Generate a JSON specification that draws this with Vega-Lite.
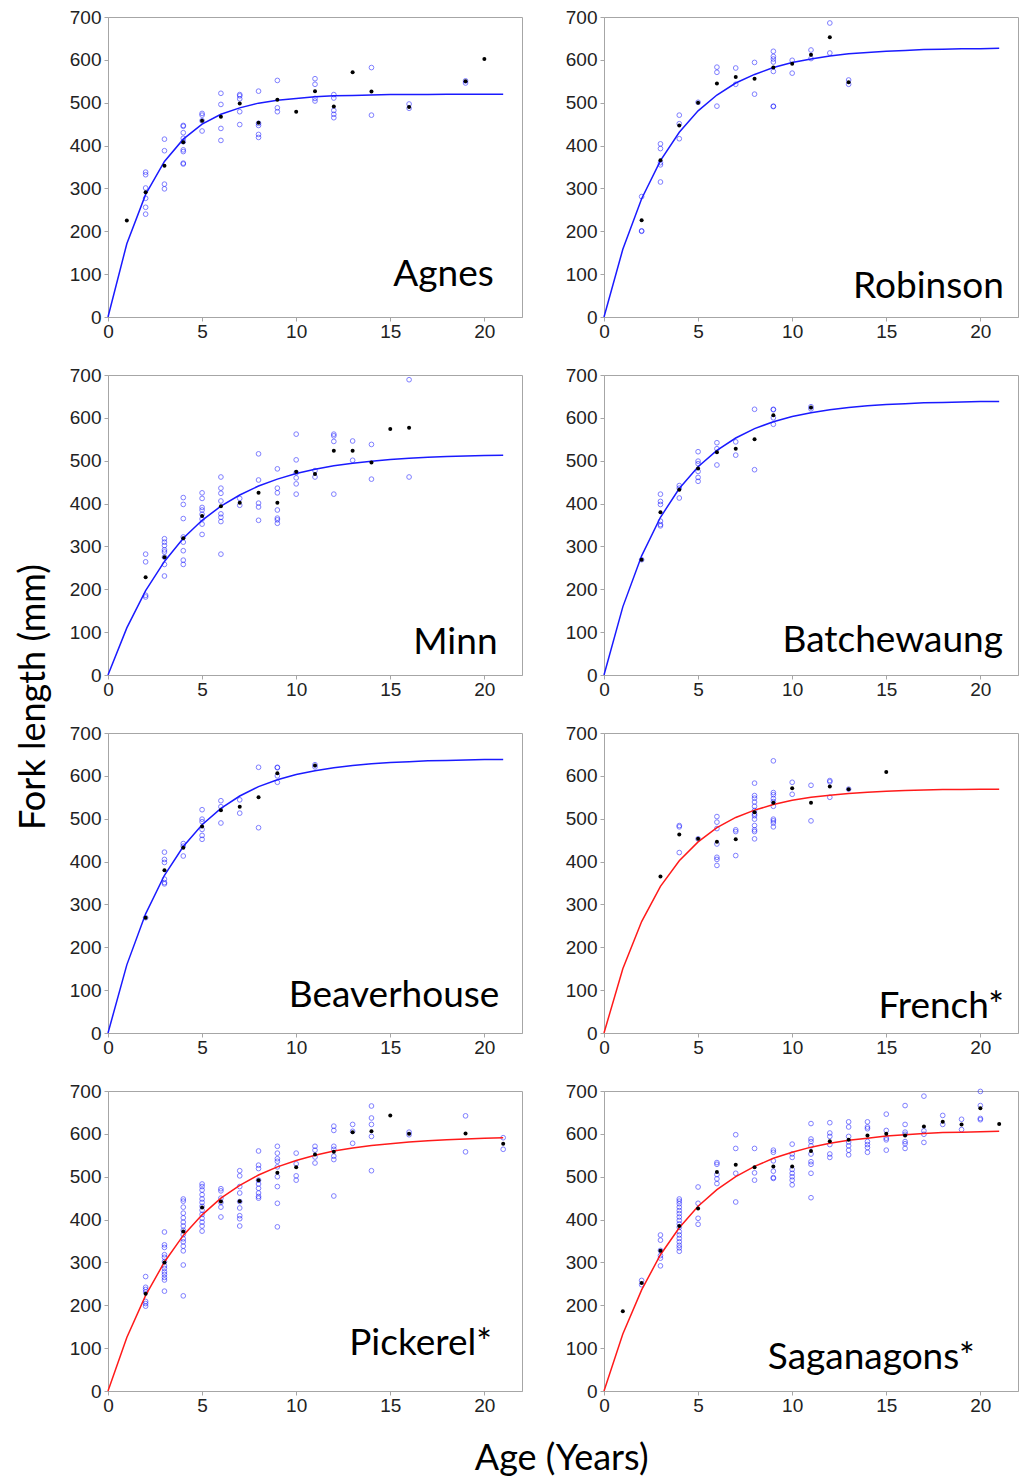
{
"$schema":"https://vega.github.io/schema/vega-lite/v6.json",
"padding":{"left":15,"top":7,"right":0,"bottom":2},
"datasets":{
"obs":[
{"lake":"Agnes","age":2,"length":338},{"lake":"Agnes","age":2,"length":332},{"lake":"Agnes","age":2,"length":301},{"lake":"Agnes","age":2,"length":277},{"lake":"Agnes","age":2,"length":256},{"lake":"Agnes","age":2,"length":240},
{"lake":"Agnes","age":3,"length":415},{"lake":"Agnes","age":3,"length":388},{"lake":"Agnes","age":3,"length":310},{"lake":"Agnes","age":3,"length":299},
{"lake":"Agnes","age":4,"length":447},{"lake":"Agnes","age":4,"length":445},{"lake":"Agnes","age":4,"length":430},{"lake":"Agnes","age":4,"length":417},{"lake":"Agnes","age":4,"length":409},{"lake":"Agnes","age":4,"length":390},{"lake":"Agnes","age":4,"length":386},{"lake":"Agnes","age":4,"length":359},{"lake":"Agnes","age":4,"length":357},
{"lake":"Agnes","age":5,"length":475},{"lake":"Agnes","age":5,"length":471},{"lake":"Agnes","age":5,"length":458},{"lake":"Agnes","age":5,"length":434},
{"lake":"Agnes","age":6,"length":522},{"lake":"Agnes","age":6,"length":496},{"lake":"Agnes","age":6,"length":440},{"lake":"Agnes","age":6,"length":412},
{"lake":"Agnes","age":7,"length":519},{"lake":"Agnes","age":7,"length":516},{"lake":"Agnes","age":7,"length":509},{"lake":"Agnes","age":7,"length":479},{"lake":"Agnes","age":7,"length":449},
{"lake":"Agnes","age":8,"length":527},{"lake":"Agnes","age":8,"length":452},{"lake":"Agnes","age":8,"length":447},{"lake":"Agnes","age":8,"length":426},{"lake":"Agnes","age":8,"length":419},
{"lake":"Agnes","age":9,"length":552},{"lake":"Agnes","age":9,"length":488},{"lake":"Agnes","age":9,"length":479},
{"lake":"Agnes","age":11,"length":556},{"lake":"Agnes","age":11,"length":543},{"lake":"Agnes","age":11,"length":510},{"lake":"Agnes","age":11,"length":504},
{"lake":"Agnes","age":12,"length":519},{"lake":"Agnes","age":12,"length":511},{"lake":"Agnes","age":12,"length":482},{"lake":"Agnes","age":12,"length":473},{"lake":"Agnes","age":12,"length":465},
{"lake":"Agnes","age":14,"length":582},{"lake":"Agnes","age":14,"length":471},
{"lake":"Agnes","age":16,"length":497},{"lake":"Agnes","age":16,"length":487},
{"lake":"Agnes","age":19,"length":551},{"lake":"Agnes","age":19,"length":546},

{"lake":"Robinson","age":2,"length":281},{"lake":"Robinson","age":2,"length":200},{"lake":"Robinson","age":2,"length":201},
{"lake":"Robinson","age":3,"length":404},{"lake":"Robinson","age":3,"length":393},{"lake":"Robinson","age":3,"length":360},{"lake":"Robinson","age":3,"length":355},{"lake":"Robinson","age":3,"length":315},
{"lake":"Robinson","age":4,"length":471},{"lake":"Robinson","age":4,"length":451},{"lake":"Robinson","age":4,"length":416},
{"lake":"Robinson","age":5,"length":501},
{"lake":"Robinson","age":6,"length":583},{"lake":"Robinson","age":6,"length":571},{"lake":"Robinson","age":6,"length":492},
{"lake":"Robinson","age":7,"length":581},{"lake":"Robinson","age":7,"length":543},
{"lake":"Robinson","age":8,"length":594},{"lake":"Robinson","age":8,"length":520},
{"lake":"Robinson","age":9,"length":620},{"lake":"Robinson","age":9,"length":608},{"lake":"Robinson","age":9,"length":602},{"lake":"Robinson","age":9,"length":595},{"lake":"Robinson","age":9,"length":573},{"lake":"Robinson","age":9,"length":491},{"lake":"Robinson","age":9,"length":492},
{"lake":"Robinson","age":10,"length":599},{"lake":"Robinson","age":10,"length":569},
{"lake":"Robinson","age":11,"length":623},{"lake":"Robinson","age":11,"length":603},
{"lake":"Robinson","age":12,"length":686},{"lake":"Robinson","age":12,"length":616},
{"lake":"Robinson","age":13,"length":553},{"lake":"Robinson","age":13,"length":543},

{"lake":"Minn","age":2,"length":282},{"lake":"Minn","age":2,"length":264},{"lake":"Minn","age":2,"length":186},{"lake":"Minn","age":2,"length":182},
{"lake":"Minn","age":3,"length":318},{"lake":"Minn","age":3,"length":310},{"lake":"Minn","age":3,"length":302},{"lake":"Minn","age":3,"length":292},{"lake":"Minn","age":3,"length":287},{"lake":"Minn","age":3,"length":275},{"lake":"Minn","age":3,"length":258},{"lake":"Minn","age":3,"length":231},
{"lake":"Minn","age":4,"length":414},{"lake":"Minn","age":4,"length":398},{"lake":"Minn","age":4,"length":365},{"lake":"Minn","age":4,"length":322},{"lake":"Minn","age":4,"length":310},{"lake":"Minn","age":4,"length":290},{"lake":"Minn","age":4,"length":268},{"lake":"Minn","age":4,"length":258},
{"lake":"Minn","age":5,"length":425},{"lake":"Minn","age":5,"length":412},{"lake":"Minn","age":5,"length":391},{"lake":"Minn","age":5,"length":385},{"lake":"Minn","age":5,"length":375},{"lake":"Minn","age":5,"length":364},{"lake":"Minn","age":5,"length":352},{"lake":"Minn","age":5,"length":328},
{"lake":"Minn","age":6,"length":462},{"lake":"Minn","age":6,"length":436},{"lake":"Minn","age":6,"length":424},{"lake":"Minn","age":6,"length":406},{"lake":"Minn","age":6,"length":376},{"lake":"Minn","age":6,"length":368},{"lake":"Minn","age":6,"length":358},{"lake":"Minn","age":6,"length":282},
{"lake":"Minn","age":7,"length":412},{"lake":"Minn","age":7,"length":396},
{"lake":"Minn","age":8,"length":516},{"lake":"Minn","age":8,"length":455},{"lake":"Minn","age":8,"length":401},{"lake":"Minn","age":8,"length":392},{"lake":"Minn","age":8,"length":361},
{"lake":"Minn","age":9,"length":481},{"lake":"Minn","age":9,"length":436},{"lake":"Minn","age":9,"length":425},{"lake":"Minn","age":9,"length":385},{"lake":"Minn","age":9,"length":366},{"lake":"Minn","age":9,"length":362},{"lake":"Minn","age":9,"length":354},
{"lake":"Minn","age":10,"length":562},{"lake":"Minn","age":10,"length":502},{"lake":"Minn","age":10,"length":472},{"lake":"Minn","age":10,"length":460},{"lake":"Minn","age":10,"length":446},{"lake":"Minn","age":10,"length":422},
{"lake":"Minn","age":11,"length":462},{"lake":"Minn","age":11,"length":477},
{"lake":"Minn","age":12,"length":562},{"lake":"Minn","age":12,"length":558},{"lake":"Minn","age":12,"length":545},{"lake":"Minn","age":12,"length":422},
{"lake":"Minn","age":13,"length":546},{"lake":"Minn","age":13,"length":501},
{"lake":"Minn","age":14,"length":538},{"lake":"Minn","age":14,"length":457},
{"lake":"Minn","age":16,"length":689},{"lake":"Minn","age":16,"length":462},

{"lake":"Batchewaung","age":2,"length":269},
{"lake":"Batchewaung","age":3,"length":422},{"lake":"Batchewaung","age":3,"length":405},{"lake":"Batchewaung","age":3,"length":398},{"lake":"Batchewaung","age":3,"length":359},{"lake":"Batchewaung","age":3,"length":351},{"lake":"Batchewaung","age":3,"length":348},
{"lake":"Batchewaung","age":4,"length":442},{"lake":"Batchewaung","age":4,"length":436},{"lake":"Batchewaung","age":4,"length":413},
{"lake":"Batchewaung","age":5,"length":521},{"lake":"Batchewaung","age":5,"length":499},{"lake":"Batchewaung","age":5,"length":493},{"lake":"Batchewaung","age":5,"length":475},{"lake":"Batchewaung","age":5,"length":461},{"lake":"Batchewaung","age":5,"length":452},
{"lake":"Batchewaung","age":6,"length":542},{"lake":"Batchewaung","age":6,"length":528},{"lake":"Batchewaung","age":6,"length":490},
{"lake":"Batchewaung","age":7,"length":544},{"lake":"Batchewaung","age":7,"length":513},
{"lake":"Batchewaung","age":8,"length":620},{"lake":"Batchewaung","age":8,"length":479},
{"lake":"Batchewaung","age":9,"length":620},{"lake":"Batchewaung","age":9,"length":619},{"lake":"Batchewaung","age":9,"length":600},{"lake":"Batchewaung","age":9,"length":585},
{"lake":"Batchewaung","age":11,"length":626},{"lake":"Batchewaung","age":11,"length":621},

{"lake":"Beaverhouse","age":2,"length":269},
{"lake":"Beaverhouse","age":3,"length":422},{"lake":"Beaverhouse","age":3,"length":405},{"lake":"Beaverhouse","age":3,"length":398},{"lake":"Beaverhouse","age":3,"length":359},{"lake":"Beaverhouse","age":3,"length":351},{"lake":"Beaverhouse","age":3,"length":348},
{"lake":"Beaverhouse","age":4,"length":442},{"lake":"Beaverhouse","age":4,"length":436},{"lake":"Beaverhouse","age":4,"length":413},
{"lake":"Beaverhouse","age":5,"length":521},{"lake":"Beaverhouse","age":5,"length":499},{"lake":"Beaverhouse","age":5,"length":493},{"lake":"Beaverhouse","age":5,"length":475},{"lake":"Beaverhouse","age":5,"length":461},{"lake":"Beaverhouse","age":5,"length":452},
{"lake":"Beaverhouse","age":6,"length":542},{"lake":"Beaverhouse","age":6,"length":528},{"lake":"Beaverhouse","age":6,"length":490},
{"lake":"Beaverhouse","age":7,"length":544},{"lake":"Beaverhouse","age":7,"length":513},
{"lake":"Beaverhouse","age":8,"length":620},{"lake":"Beaverhouse","age":8,"length":479},
{"lake":"Beaverhouse","age":9,"length":620},{"lake":"Beaverhouse","age":9,"length":619},{"lake":"Beaverhouse","age":9,"length":600},{"lake":"Beaverhouse","age":9,"length":585},
{"lake":"Beaverhouse","age":11,"length":626},{"lake":"Beaverhouse","age":11,"length":621},

{"lake":"French*","age":4,"length":484},{"lake":"French*","age":4,"length":481},{"lake":"French*","age":4,"length":421},
{"lake":"French*","age":5,"length":453},
{"lake":"French*","age":6,"length":505},{"lake":"French*","age":6,"length":492},{"lake":"French*","age":6,"length":477},{"lake":"French*","age":6,"length":441},{"lake":"French*","age":6,"length":410},{"lake":"French*","age":6,"length":405},{"lake":"French*","age":6,"length":391},
{"lake":"French*","age":7,"length":474},{"lake":"French*","age":7,"length":470},{"lake":"French*","age":7,"length":414},
{"lake":"French*","age":8,"length":583},{"lake":"French*","age":8,"length":554},{"lake":"French*","age":8,"length":548},{"lake":"French*","age":8,"length":539},{"lake":"French*","age":8,"length":529},{"lake":"French*","age":8,"length":519},{"lake":"French*","age":8,"length":511},{"lake":"French*","age":8,"length":507},{"lake":"French*","age":8,"length":499},{"lake":"French*","age":8,"length":484},{"lake":"French*","age":8,"length":474},{"lake":"French*","age":8,"length":470},{"lake":"French*","age":8,"length":453},
{"lake":"French*","age":9,"length":635},{"lake":"French*","age":9,"length":561},{"lake":"French*","age":9,"length":556},{"lake":"French*","age":9,"length":547},{"lake":"French*","age":9,"length":540},{"lake":"French*","age":9,"length":529},{"lake":"French*","age":9,"length":499},{"lake":"French*","age":9,"length":495},{"lake":"French*","age":9,"length":490},{"lake":"French*","age":9,"length":481},
{"lake":"French*","age":10,"length":585},{"lake":"French*","age":10,"length":557},
{"lake":"French*","age":11,"length":578},{"lake":"French*","age":11,"length":495},
{"lake":"French*","age":12,"length":589},{"lake":"French*","age":12,"length":586},{"lake":"French*","age":12,"length":550},
{"lake":"French*","age":13,"length":569},

{"lake":"Pickerel*","age":2,"length":267},{"lake":"Pickerel*","age":2,"length":242},{"lake":"Pickerel*","age":2,"length":237},{"lake":"Pickerel*","age":2,"length":231},{"lake":"Pickerel*","age":2,"length":209},{"lake":"Pickerel*","age":2,"length":204},{"lake":"Pickerel*","age":2,"length":198},
{"lake":"Pickerel*","age":3,"length":371},{"lake":"Pickerel*","age":3,"length":341},{"lake":"Pickerel*","age":3,"length":335},{"lake":"Pickerel*","age":3,"length":318},{"lake":"Pickerel*","age":3,"length":312},{"lake":"Pickerel*","age":3,"length":302},{"lake":"Pickerel*","age":3,"length":292},{"lake":"Pickerel*","age":3,"length":286},{"lake":"Pickerel*","age":3,"length":278},{"lake":"Pickerel*","age":3,"length":272},{"lake":"Pickerel*","age":3,"length":265},{"lake":"Pickerel*","age":3,"length":259},{"lake":"Pickerel*","age":3,"length":233},
{"lake":"Pickerel*","age":4,"length":448},{"lake":"Pickerel*","age":4,"length":443},{"lake":"Pickerel*","age":4,"length":429},{"lake":"Pickerel*","age":4,"length":415},{"lake":"Pickerel*","age":4,"length":404},{"lake":"Pickerel*","age":4,"length":394},{"lake":"Pickerel*","age":4,"length":385},{"lake":"Pickerel*","age":4,"length":375},{"lake":"Pickerel*","age":4,"length":365},{"lake":"Pickerel*","age":4,"length":355},{"lake":"Pickerel*","age":4,"length":348},{"lake":"Pickerel*","age":4,"length":338},{"lake":"Pickerel*","age":4,"length":327},{"lake":"Pickerel*","age":4,"length":294},{"lake":"Pickerel*","age":4,"length":222},
{"lake":"Pickerel*","age":5,"length":483},{"lake":"Pickerel*","age":5,"length":477},{"lake":"Pickerel*","age":5,"length":469},{"lake":"Pickerel*","age":5,"length":458},{"lake":"Pickerel*","age":5,"length":448},{"lake":"Pickerel*","age":5,"length":440},{"lake":"Pickerel*","age":5,"length":431},{"lake":"Pickerel*","age":5,"length":422},{"lake":"Pickerel*","age":5,"length":412},{"lake":"Pickerel*","age":5,"length":403},{"lake":"Pickerel*","age":5,"length":394},{"lake":"Pickerel*","age":5,"length":385},{"lake":"Pickerel*","age":5,"length":373},
{"lake":"Pickerel*","age":6,"length":472},{"lake":"Pickerel*","age":6,"length":467},{"lake":"Pickerel*","age":6,"length":450},{"lake":"Pickerel*","age":6,"length":440},{"lake":"Pickerel*","age":6,"length":429},{"lake":"Pickerel*","age":6,"length":406},
{"lake":"Pickerel*","age":7,"length":514},{"lake":"Pickerel*","age":7,"length":502},{"lake":"Pickerel*","age":7,"length":477},{"lake":"Pickerel*","age":7,"length":462},{"lake":"Pickerel*","age":7,"length":442},{"lake":"Pickerel*","age":7,"length":427},{"lake":"Pickerel*","age":7,"length":409},{"lake":"Pickerel*","age":7,"length":402},{"lake":"Pickerel*","age":7,"length":385},
{"lake":"Pickerel*","age":8,"length":560},{"lake":"Pickerel*","age":8,"length":527},{"lake":"Pickerel*","age":8,"length":519},{"lake":"Pickerel*","age":8,"length":492},{"lake":"Pickerel*","age":8,"length":483},{"lake":"Pickerel*","age":8,"length":473},{"lake":"Pickerel*","age":8,"length":462},{"lake":"Pickerel*","age":8,"length":454},{"lake":"Pickerel*","age":8,"length":450},
{"lake":"Pickerel*","age":9,"length":571},{"lake":"Pickerel*","age":9,"length":555},{"lake":"Pickerel*","age":9,"length":542},{"lake":"Pickerel*","age":9,"length":536},{"lake":"Pickerel*","age":9,"length":523},{"lake":"Pickerel*","age":9,"length":500},{"lake":"Pickerel*","age":9,"length":477},{"lake":"Pickerel*","age":9,"length":438},{"lake":"Pickerel*","age":9,"length":383},
{"lake":"Pickerel*","age":10,"length":555},{"lake":"Pickerel*","age":10,"length":530},{"lake":"Pickerel*","age":10,"length":502},{"lake":"Pickerel*","age":10,"length":492},
{"lake":"Pickerel*","age":11,"length":571},{"lake":"Pickerel*","age":11,"length":562},{"lake":"Pickerel*","age":11,"length":546},{"lake":"Pickerel*","age":11,"length":532},
{"lake":"Pickerel*","age":12,"length":618},{"lake":"Pickerel*","age":12,"length":608},{"lake":"Pickerel*","age":12,"length":571},{"lake":"Pickerel*","age":12,"length":564},{"lake":"Pickerel*","age":12,"length":548},{"lake":"Pickerel*","age":12,"length":540},{"lake":"Pickerel*","age":12,"length":455},
{"lake":"Pickerel*","age":13,"length":622},{"lake":"Pickerel*","age":13,"length":606},{"lake":"Pickerel*","age":13,"length":578},
{"lake":"Pickerel*","age":14,"length":665},{"lake":"Pickerel*","age":14,"length":637},{"lake":"Pickerel*","age":14,"length":622},{"lake":"Pickerel*","age":14,"length":594},{"lake":"Pickerel*","age":14,"length":514},
{"lake":"Pickerel*","age":16,"length":604},{"lake":"Pickerel*","age":16,"length":598},
{"lake":"Pickerel*","age":19,"length":642},{"lake":"Pickerel*","age":19,"length":558},
{"lake":"Pickerel*","age":21,"length":591},{"lake":"Pickerel*","age":21,"length":564},

{"lake":"Saganagons*","age":2,"length":258},{"lake":"Saganagons*","age":2,"length":248},
{"lake":"Saganagons*","age":3,"length":364},{"lake":"Saganagons*","age":3,"length":352},{"lake":"Saganagons*","age":3,"length":328},{"lake":"Saganagons*","age":3,"length":316},{"lake":"Saganagons*","age":3,"length":310},{"lake":"Saganagons*","age":3,"length":292},
{"lake":"Saganagons*","age":4,"length":448},{"lake":"Saganagons*","age":4,"length":443},{"lake":"Saganagons*","age":4,"length":437},{"lake":"Saganagons*","age":4,"length":429},{"lake":"Saganagons*","age":4,"length":421},{"lake":"Saganagons*","age":4,"length":414},{"lake":"Saganagons*","age":4,"length":406},{"lake":"Saganagons*","age":4,"length":398},{"lake":"Saganagons*","age":4,"length":390},{"lake":"Saganagons*","age":4,"length":382},{"lake":"Saganagons*","age":4,"length":372},{"lake":"Saganagons*","age":4,"length":364},{"lake":"Saganagons*","age":4,"length":356},{"lake":"Saganagons*","age":4,"length":348},{"lake":"Saganagons*","age":4,"length":340},{"lake":"Saganagons*","age":4,"length":334},{"lake":"Saganagons*","age":4,"length":326},
{"lake":"Saganagons*","age":5,"length":476},{"lake":"Saganagons*","age":5,"length":438},{"lake":"Saganagons*","age":5,"length":403},{"lake":"Saganagons*","age":5,"length":389},
{"lake":"Saganagons*","age":6,"length":533},{"lake":"Saganagons*","age":6,"length":529},{"lake":"Saganagons*","age":6,"length":505},{"lake":"Saganagons*","age":6,"length":495},{"lake":"Saganagons*","age":6,"length":484},
{"lake":"Saganagons*","age":7,"length":598},{"lake":"Saganagons*","age":7,"length":566},{"lake":"Saganagons*","age":7,"length":508},{"lake":"Saganagons*","age":7,"length":441},
{"lake":"Saganagons*","age":8,"length":566},{"lake":"Saganagons*","age":8,"length":509},{"lake":"Saganagons*","age":8,"length":492},
{"lake":"Saganagons*","age":9,"length":562},{"lake":"Saganagons*","age":9,"length":557},{"lake":"Saganagons*","age":9,"length":537},{"lake":"Saganagons*","age":9,"length":513},{"lake":"Saganagons*","age":9,"length":498},{"lake":"Saganagons*","age":9,"length":496},
{"lake":"Saganagons*","age":10,"length":576},{"lake":"Saganagons*","age":10,"length":553},{"lake":"Saganagons*","age":10,"length":545},{"lake":"Saganagons*","age":10,"length":517},{"lake":"Saganagons*","age":10,"length":508},{"lake":"Saganagons*","age":10,"length":500},{"lake":"Saganagons*","age":10,"length":492},{"lake":"Saganagons*","age":10,"length":481},
{"lake":"Saganagons*","age":11,"length":624},{"lake":"Saganagons*","age":11,"length":588},{"lake":"Saganagons*","age":11,"length":582},{"lake":"Saganagons*","age":11,"length":572},{"lake":"Saganagons*","age":11,"length":553},{"lake":"Saganagons*","age":11,"length":535},{"lake":"Saganagons*","age":11,"length":529},{"lake":"Saganagons*","age":11,"length":508},{"lake":"Saganagons*","age":11,"length":451},
{"lake":"Saganagons*","age":12,"length":626},{"lake":"Saganagons*","age":12,"length":602},{"lake":"Saganagons*","age":12,"length":594},{"lake":"Saganagons*","age":12,"length":575},{"lake":"Saganagons*","age":12,"length":553},{"lake":"Saganagons*","age":12,"length":545},
{"lake":"Saganagons*","age":13,"length":628},{"lake":"Saganagons*","age":13,"length":616},{"lake":"Saganagons*","age":13,"length":594},{"lake":"Saganagons*","age":13,"length":581},{"lake":"Saganagons*","age":13,"length":572},{"lake":"Saganagons*","age":13,"length":562},{"lake":"Saganagons*","age":13,"length":551},
{"lake":"Saganagons*","age":14,"length":628},{"lake":"Saganagons*","age":14,"length":616},{"lake":"Saganagons*","age":14,"length":612},{"lake":"Saganagons*","age":14,"length":582},{"lake":"Saganagons*","age":14,"length":575},{"lake":"Saganagons*","age":14,"length":568},{"lake":"Saganagons*","age":14,"length":557},
{"lake":"Saganagons*","age":15,"length":646},{"lake":"Saganagons*","age":15,"length":608},{"lake":"Saganagons*","age":15,"length":590},{"lake":"Saganagons*","age":15,"length":586},{"lake":"Saganagons*","age":15,"length":562},
{"lake":"Saganagons*","age":16,"length":666},{"lake":"Saganagons*","age":16,"length":622},{"lake":"Saganagons*","age":16,"length":604},{"lake":"Saganagons*","age":16,"length":599},{"lake":"Saganagons*","age":16,"length":582},{"lake":"Saganagons*","age":16,"length":577},{"lake":"Saganagons*","age":16,"length":566},
{"lake":"Saganagons*","age":17,"length":688},{"lake":"Saganagons*","age":17,"length":607},{"lake":"Saganagons*","age":17,"length":599},{"lake":"Saganagons*","age":17,"length":580},
{"lake":"Saganagons*","age":18,"length":643},{"lake":"Saganagons*","age":18,"length":622},
{"lake":"Saganagons*","age":19,"length":634},{"lake":"Saganagons*","age":19,"length":610},
{"lake":"Saganagons*","age":20,"length":699},{"lake":"Saganagons*","age":20,"length":666},{"lake":"Saganagons*","age":20,"length":636},{"lake":"Saganagons*","age":20,"length":633}
],
"mean":[
{"lake":"Agnes","age":1,"length":225},{"lake":"Agnes","age":2,"length":291},{"lake":"Agnes","age":3,"length":353},{"lake":"Agnes","age":4,"length":408},{"lake":"Agnes","age":5,"length":458},{"lake":"Agnes","age":6,"length":467},{"lake":"Agnes","age":7,"length":498},{"lake":"Agnes","age":8,"length":453},{"lake":"Agnes","age":9,"length":507},{"lake":"Agnes","age":10,"length":479},{"lake":"Agnes","age":11,"length":527},{"lake":"Agnes","age":12,"length":491},{"lake":"Agnes","age":13,"length":571},{"lake":"Agnes","age":14,"length":526},{"lake":"Agnes","age":16,"length":490},{"lake":"Agnes","age":19,"length":550},{"lake":"Agnes","age":20,"length":602},
{"lake":"Robinson","age":2,"length":226},{"lake":"Robinson","age":3,"length":366},{"lake":"Robinson","age":4,"length":447},{"lake":"Robinson","age":5,"length":500},{"lake":"Robinson","age":6,"length":545},{"lake":"Robinson","age":7,"length":560},{"lake":"Robinson","age":8,"length":556},{"lake":"Robinson","age":9,"length":582},{"lake":"Robinson","age":10,"length":591},{"lake":"Robinson","age":11,"length":612},{"lake":"Robinson","age":12,"length":653},{"lake":"Robinson","age":13,"length":548},
{"lake":"Minn","age":2,"length":228},{"lake":"Minn","age":3,"length":275},{"lake":"Minn","age":4,"length":319},{"lake":"Minn","age":5,"length":371},{"lake":"Minn","age":6,"length":394},{"lake":"Minn","age":7,"length":402},{"lake":"Minn","age":8,"length":425},{"lake":"Minn","age":9,"length":402},{"lake":"Minn","age":10,"length":474},{"lake":"Minn","age":11,"length":469},{"lake":"Minn","age":12,"length":523},{"lake":"Minn","age":13,"length":523},{"lake":"Minn","age":14,"length":496},{"lake":"Minn","age":15,"length":574},{"lake":"Minn","age":16,"length":577},
{"lake":"Batchewaung","age":2,"length":269},{"lake":"Batchewaung","age":3,"length":380},{"lake":"Batchewaung","age":4,"length":432},{"lake":"Batchewaung","age":5,"length":482},{"lake":"Batchewaung","age":6,"length":520},{"lake":"Batchewaung","age":7,"length":528},{"lake":"Batchewaung","age":8,"length":550},{"lake":"Batchewaung","age":9,"length":606},{"lake":"Batchewaung","age":11,"length":624},
{"lake":"Beaverhouse","age":2,"length":269},{"lake":"Beaverhouse","age":3,"length":380},{"lake":"Beaverhouse","age":4,"length":432},{"lake":"Beaverhouse","age":5,"length":482},{"lake":"Beaverhouse","age":6,"length":520},{"lake":"Beaverhouse","age":7,"length":528},{"lake":"Beaverhouse","age":8,"length":550},{"lake":"Beaverhouse","age":9,"length":606},{"lake":"Beaverhouse","age":11,"length":624},
{"lake":"French*","age":3,"length":365},{"lake":"French*","age":4,"length":463},{"lake":"French*","age":5,"length":453},{"lake":"French*","age":6,"length":446},{"lake":"French*","age":7,"length":452},{"lake":"French*","age":8,"length":515},{"lake":"French*","age":9,"length":537},{"lake":"French*","age":10,"length":571},{"lake":"French*","age":11,"length":537},{"lake":"French*","age":12,"length":575},{"lake":"French*","age":13,"length":569},{"lake":"French*","age":15,"length":609},
{"lake":"Pickerel*","age":2,"length":227},{"lake":"Pickerel*","age":3,"length":300},{"lake":"Pickerel*","age":4,"length":372},{"lake":"Pickerel*","age":5,"length":428},{"lake":"Pickerel*","age":6,"length":442},{"lake":"Pickerel*","age":7,"length":443},{"lake":"Pickerel*","age":8,"length":492},{"lake":"Pickerel*","age":9,"length":509},{"lake":"Pickerel*","age":10,"length":522},{"lake":"Pickerel*","age":11,"length":552},{"lake":"Pickerel*","age":12,"length":558},{"lake":"Pickerel*","age":13,"length":604},{"lake":"Pickerel*","age":14,"length":606},{"lake":"Pickerel*","age":15,"length":643},{"lake":"Pickerel*","age":16,"length":600},{"lake":"Pickerel*","age":19,"length":601},{"lake":"Pickerel*","age":21,"length":577},
{"lake":"Saganagons*","age":1,"length":186},{"lake":"Saganagons*","age":2,"length":252},{"lake":"Saganagons*","age":3,"length":327},{"lake":"Saganagons*","age":4,"length":385},{"lake":"Saganagons*","age":5,"length":426},{"lake":"Saganagons*","age":6,"length":511},{"lake":"Saganagons*","age":7,"length":528},{"lake":"Saganagons*","age":8,"length":522},{"lake":"Saganagons*","age":9,"length":524},{"lake":"Saganagons*","age":10,"length":524},{"lake":"Saganagons*","age":11,"length":560},{"lake":"Saganagons*","age":12,"length":583},{"lake":"Saganagons*","age":13,"length":586},{"lake":"Saganagons*","age":14,"length":596},{"lake":"Saganagons*","age":15,"length":600},{"lake":"Saganagons*","age":16,"length":596},{"lake":"Saganagons*","age":17,"length":617},{"lake":"Saganagons*","age":18,"length":628},{"lake":"Saganagons*","age":19,"length":622},{"lake":"Saganagons*","age":20,"length":660},{"lake":"Saganagons*","age":21,"length":623}
],
"fit":[
{"lake":"Agnes","age":0,"length":0},{"lake":"Agnes","age":1,"length":171},{"lake":"Agnes","age":2,"length":286},{"lake":"Agnes","age":3,"length":363},{"lake":"Agnes","age":4,"length":415},{"lake":"Agnes","age":5,"length":450},{"lake":"Agnes","age":6,"length":473},{"lake":"Agnes","age":7,"length":488},{"lake":"Agnes","age":8,"length":499},{"lake":"Agnes","age":9,"length":506},{"lake":"Agnes","age":10,"length":510},{"lake":"Agnes","age":11,"length":514},{"lake":"Agnes","age":12,"length":516},{"lake":"Agnes","age":13,"length":517},{"lake":"Agnes","age":14,"length":518},{"lake":"Agnes","age":15,"length":519},{"lake":"Agnes","age":16,"length":519},{"lake":"Agnes","age":17,"length":519},{"lake":"Agnes","age":18,"length":520},{"lake":"Agnes","age":19,"length":520},{"lake":"Agnes","age":20,"length":520},{"lake":"Agnes","age":21,"length":520},
{"lake":"Robinson","age":0,"length":0},{"lake":"Robinson","age":1,"length":158},{"lake":"Robinson","age":2,"length":276},{"lake":"Robinson","age":3,"length":365},{"lake":"Robinson","age":4,"length":431},{"lake":"Robinson","age":5,"length":481},{"lake":"Robinson","age":6,"length":518},{"lake":"Robinson","age":7,"length":546},{"lake":"Robinson","age":8,"length":566},{"lake":"Robinson","age":9,"length":582},{"lake":"Robinson","age":10,"length":594},{"lake":"Robinson","age":11,"length":602},{"lake":"Robinson","age":12,"length":609},{"lake":"Robinson","age":13,"length":614},{"lake":"Robinson","age":14,"length":617},{"lake":"Robinson","age":15,"length":620},{"lake":"Robinson","age":16,"length":622},{"lake":"Robinson","age":17,"length":624},{"lake":"Robinson","age":18,"length":625},{"lake":"Robinson","age":19,"length":626},{"lake":"Robinson","age":20,"length":626},{"lake":"Robinson","age":21,"length":627},
{"lake":"Minn","age":0,"length":0},{"lake":"Minn","age":1,"length":110},{"lake":"Minn","age":2,"length":197},{"lake":"Minn","age":3,"length":265},{"lake":"Minn","age":4,"length":319},{"lake":"Minn","age":5,"length":361},{"lake":"Minn","age":6,"length":394},{"lake":"Minn","age":7,"length":420},{"lake":"Minn","age":8,"length":441},{"lake":"Minn","age":9,"length":457},{"lake":"Minn","age":10,"length":470},{"lake":"Minn","age":11,"length":480},{"lake":"Minn","age":12,"length":488},{"lake":"Minn","age":13,"length":494},{"lake":"Minn","age":14,"length":499},{"lake":"Minn","age":15,"length":503},{"lake":"Minn","age":16,"length":506},{"lake":"Minn","age":17,"length":508},{"lake":"Minn","age":18,"length":510},{"lake":"Minn","age":19,"length":511},{"lake":"Minn","age":20,"length":512},{"lake":"Minn","age":21,"length":513},
{"lake":"Batchewaung","age":0,"length":0},{"lake":"Batchewaung","age":1,"length":159},{"lake":"Batchewaung","age":2,"length":278},{"lake":"Batchewaung","age":3,"length":368},{"lake":"Batchewaung","age":4,"length":435},{"lake":"Batchewaung","age":5,"length":486},{"lake":"Batchewaung","age":6,"length":524},{"lake":"Batchewaung","age":7,"length":553},{"lake":"Batchewaung","age":8,"length":575},{"lake":"Batchewaung","age":9,"length":591},{"lake":"Batchewaung","age":10,"length":603},{"lake":"Batchewaung","age":11,"length":612},{"lake":"Batchewaung","age":12,"length":619},{"lake":"Batchewaung","age":13,"length":624},{"lake":"Batchewaung","age":14,"length":628},{"lake":"Batchewaung","age":15,"length":631},{"lake":"Batchewaung","age":16,"length":633},{"lake":"Batchewaung","age":17,"length":635},{"lake":"Batchewaung","age":18,"length":636},{"lake":"Batchewaung","age":19,"length":637},{"lake":"Batchewaung","age":20,"length":638},{"lake":"Batchewaung","age":21,"length":638},
{"lake":"Beaverhouse","age":0,"length":0},{"lake":"Beaverhouse","age":1,"length":159},{"lake":"Beaverhouse","age":2,"length":278},{"lake":"Beaverhouse","age":3,"length":368},{"lake":"Beaverhouse","age":4,"length":435},{"lake":"Beaverhouse","age":5,"length":486},{"lake":"Beaverhouse","age":6,"length":524},{"lake":"Beaverhouse","age":7,"length":553},{"lake":"Beaverhouse","age":8,"length":575},{"lake":"Beaverhouse","age":9,"length":591},{"lake":"Beaverhouse","age":10,"length":603},{"lake":"Beaverhouse","age":11,"length":612},{"lake":"Beaverhouse","age":12,"length":619},{"lake":"Beaverhouse","age":13,"length":624},{"lake":"Beaverhouse","age":14,"length":628},{"lake":"Beaverhouse","age":15,"length":631},{"lake":"Beaverhouse","age":16,"length":633},{"lake":"Beaverhouse","age":17,"length":635},{"lake":"Beaverhouse","age":18,"length":636},{"lake":"Beaverhouse","age":19,"length":637},{"lake":"Beaverhouse","age":20,"length":638},{"lake":"Beaverhouse","age":21,"length":638},
{"lake":"French*","age":0,"length":0},{"lake":"French*","age":1,"length":150},{"lake":"French*","age":2,"length":260},{"lake":"French*","age":3,"length":342},{"lake":"French*","age":4,"length":402},{"lake":"French*","age":5,"length":446},{"lake":"French*","age":6,"length":479},{"lake":"French*","age":7,"length":503},{"lake":"French*","age":8,"length":520},{"lake":"French*","age":9,"length":533},{"lake":"French*","age":10,"length":543},{"lake":"French*","age":11,"length":550},{"lake":"French*","age":12,"length":555},{"lake":"French*","age":13,"length":559},{"lake":"French*","age":14,"length":562},{"lake":"French*","age":15,"length":564},{"lake":"French*","age":16,"length":566},{"lake":"French*","age":17,"length":567},{"lake":"French*","age":18,"length":568},{"lake":"French*","age":19,"length":568},{"lake":"French*","age":20,"length":569},{"lake":"French*","age":21,"length":569},
{"lake":"Pickerel*","age":0,"length":0},{"lake":"Pickerel*","age":1,"length":125},{"lake":"Pickerel*","age":2,"length":223},{"lake":"Pickerel*","age":3,"length":301},{"lake":"Pickerel*","age":4,"length":363},{"lake":"Pickerel*","age":5,"length":411},{"lake":"Pickerel*","age":6,"length":450},{"lake":"Pickerel*","age":7,"length":480},{"lake":"Pickerel*","age":8,"length":504},{"lake":"Pickerel*","age":9,"length":523},{"lake":"Pickerel*","age":10,"length":538},{"lake":"Pickerel*","age":11,"length":550},{"lake":"Pickerel*","age":12,"length":560},{"lake":"Pickerel*","age":13,"length":567},{"lake":"Pickerel*","age":14,"length":573},{"lake":"Pickerel*","age":15,"length":577},{"lake":"Pickerel*","age":16,"length":581},{"lake":"Pickerel*","age":17,"length":584},{"lake":"Pickerel*","age":18,"length":586},{"lake":"Pickerel*","age":19,"length":588},{"lake":"Pickerel*","age":20,"length":590},{"lake":"Pickerel*","age":21,"length":591},
{"lake":"Saganagons*","age":0,"length":0},{"lake":"Saganagons*","age":1,"length":133},{"lake":"Saganagons*","age":2,"length":236},{"lake":"Saganagons*","age":3,"length":318},{"lake":"Saganagons*","age":4,"length":381},{"lake":"Saganagons*","age":5,"length":431},{"lake":"Saganagons*","age":6,"length":470},{"lake":"Saganagons*","age":7,"length":500},{"lake":"Saganagons*","age":8,"length":524},{"lake":"Saganagons*","age":9,"length":543},{"lake":"Saganagons*","age":10,"length":557},{"lake":"Saganagons*","age":11,"length":569},{"lake":"Saganagons*","age":12,"length":578},{"lake":"Saganagons*","age":13,"length":585},{"lake":"Saganagons*","age":14,"length":590},{"lake":"Saganagons*","age":15,"length":595},{"lake":"Saganagons*","age":16,"length":598},{"lake":"Saganagons*","age":17,"length":601},{"lake":"Saganagons*","age":18,"length":603},{"lake":"Saganagons*","age":19,"length":604},{"lake":"Saganagons*","age":20,"length":605},{"lake":"Saganagons*","age":21,"length":606}
]
},
"title":{"text":"Fork length (mm)","orient":"left","anchor":"middle","offset":16,"fontSize":36,"dx":45},
"vconcat":[{
"title":{"text":"Age (Years)","orient":"bottom","anchor":"middle","offset":26,"fontSize":36,"dx":18},
"columns":2,
"bounds":"flush",
"spacing":{"row":58,"column":82},
"concat":[
{"width":414,"height":300,
"encoding":{"x":{"field":"age","type":"quantitative","scale":{"domain":[0,22]},"title":null},"y":{"field":"length","type":"quantitative","scale":{"domain":[0,700]},"title":null}},
"layer":[
{"data":{"name":"obs"},"transform":[{"filter":"datum.lake==='Agnes'"}],"mark":{"type":"point","filled":false,"color":"#0000ff","opacity":0.5,"size":22,"strokeWidth":1}},
{"data":{"name":"fit"},"transform":[{"filter":"datum.lake==='Agnes'"}],"mark":{"type":"line","color":"#1a1aff","strokeWidth":1.5},"encoding":{}},
{"data":{"name":"mean"},"transform":[{"filter":"datum.lake==='Agnes'"}],"mark":{"type":"circle","color":"#000000","opacity":1,"size":16}},
{"data":{"name":"fit"},"transform":[{"filter":"datum.lake==='Agnes' && datum.age===0"}],"mark":{"type":"text","font":"Lato","fontSize":37,"align":"right","baseline":"alphabetic","fill":"#000000"},"encoding":{"x":{"datum":20.5,"type":"quantitative"},"y":{"datum":72,"type":"quantitative"},"text":{"field":"lake","type":"nominal"}}}
]},
{"width":414,"height":300,
"encoding":{"x":{"field":"age","type":"quantitative","scale":{"domain":[0,22]},"title":null},"y":{"field":"length","type":"quantitative","scale":{"domain":[0,700]},"title":null}},
"layer":[
{"data":{"name":"obs"},"transform":[{"filter":"datum.lake==='Robinson'"}],"mark":{"type":"point","filled":false,"color":"#0000ff","opacity":0.5,"size":22,"strokeWidth":1}},
{"data":{"name":"fit"},"transform":[{"filter":"datum.lake==='Robinson'"}],"mark":{"type":"line","color":"#1a1aff","strokeWidth":1.5},"encoding":{}},
{"data":{"name":"mean"},"transform":[{"filter":"datum.lake==='Robinson'"}],"mark":{"type":"circle","color":"#000000","opacity":1,"size":16}},
{"data":{"name":"fit"},"transform":[{"filter":"datum.lake==='Robinson' && datum.age===0"}],"mark":{"type":"text","font":"Lato","fontSize":37,"align":"right","baseline":"alphabetic","fill":"#000000"},"encoding":{"x":{"datum":21.25,"type":"quantitative"},"y":{"datum":45,"type":"quantitative"},"text":{"field":"lake","type":"nominal"}}}
]},
{"width":414,"height":300,
"encoding":{"x":{"field":"age","type":"quantitative","scale":{"domain":[0,22]},"title":null},"y":{"field":"length","type":"quantitative","scale":{"domain":[0,700]},"title":null}},
"layer":[
{"data":{"name":"obs"},"transform":[{"filter":"datum.lake==='Minn'"}],"mark":{"type":"point","filled":false,"color":"#0000ff","opacity":0.5,"size":22,"strokeWidth":1}},
{"data":{"name":"fit"},"transform":[{"filter":"datum.lake==='Minn'"}],"mark":{"type":"line","color":"#1a1aff","strokeWidth":1.5},"encoding":{}},
{"data":{"name":"mean"},"transform":[{"filter":"datum.lake==='Minn'"}],"mark":{"type":"circle","color":"#000000","opacity":1,"size":16}},
{"data":{"name":"fit"},"transform":[{"filter":"datum.lake==='Minn' && datum.age===0"}],"mark":{"type":"text","font":"Lato","fontSize":37,"align":"right","baseline":"alphabetic","fill":"#000000"},"encoding":{"x":{"datum":20.7,"type":"quantitative"},"y":{"datum":48,"type":"quantitative"},"text":{"field":"lake","type":"nominal"}}}
]},
{"width":414,"height":300,
"encoding":{"x":{"field":"age","type":"quantitative","scale":{"domain":[0,22]},"title":null},"y":{"field":"length","type":"quantitative","scale":{"domain":[0,700]},"title":null}},
"layer":[
{"data":{"name":"obs"},"transform":[{"filter":"datum.lake==='Batchewaung'"}],"mark":{"type":"point","filled":false,"color":"#0000ff","opacity":0.5,"size":22,"strokeWidth":1}},
{"data":{"name":"fit"},"transform":[{"filter":"datum.lake==='Batchewaung'"}],"mark":{"type":"line","color":"#1a1aff","strokeWidth":1.5},"encoding":{}},
{"data":{"name":"mean"},"transform":[{"filter":"datum.lake==='Batchewaung'"}],"mark":{"type":"circle","color":"#000000","opacity":1,"size":16}},
{"data":{"name":"fit"},"transform":[{"filter":"datum.lake==='Batchewaung' && datum.age===0"}],"mark":{"type":"text","font":"Lato","fontSize":37,"align":"right","baseline":"alphabetic","fill":"#000000"},"encoding":{"x":{"datum":21.2,"type":"quantitative"},"y":{"datum":54,"type":"quantitative"},"text":{"field":"lake","type":"nominal"}}}
]},
{"width":414,"height":300,
"encoding":{"x":{"field":"age","type":"quantitative","scale":{"domain":[0,22]},"title":null},"y":{"field":"length","type":"quantitative","scale":{"domain":[0,700]},"title":null}},
"layer":[
{"data":{"name":"obs"},"transform":[{"filter":"datum.lake==='Beaverhouse'"}],"mark":{"type":"point","filled":false,"color":"#0000ff","opacity":0.5,"size":22,"strokeWidth":1}},
{"data":{"name":"fit"},"transform":[{"filter":"datum.lake==='Beaverhouse'"}],"mark":{"type":"line","color":"#1a1aff","strokeWidth":1.5},"encoding":{}},
{"data":{"name":"mean"},"transform":[{"filter":"datum.lake==='Beaverhouse'"}],"mark":{"type":"circle","color":"#000000","opacity":1,"size":16}},
{"data":{"name":"fit"},"transform":[{"filter":"datum.lake==='Beaverhouse' && datum.age===0"}],"mark":{"type":"text","font":"Lato","fontSize":37,"align":"right","baseline":"alphabetic","fill":"#000000"},"encoding":{"x":{"datum":20.8,"type":"quantitative"},"y":{"datum":60,"type":"quantitative"},"text":{"field":"lake","type":"nominal"}}}
]},
{"width":414,"height":300,
"encoding":{"x":{"field":"age","type":"quantitative","scale":{"domain":[0,22]},"title":null},"y":{"field":"length","type":"quantitative","scale":{"domain":[0,700]},"title":null}},
"layer":[
{"data":{"name":"obs"},"transform":[{"filter":"datum.lake==='French*'"}],"mark":{"type":"point","filled":false,"color":"#0000ff","opacity":0.5,"size":22,"strokeWidth":1}},
{"data":{"name":"fit"},"transform":[{"filter":"datum.lake==='French*'"}],"mark":{"type":"line","color":"#ff1a1a","strokeWidth":1.5},"encoding":{}},
{"data":{"name":"mean"},"transform":[{"filter":"datum.lake==='French*'"}],"mark":{"type":"circle","color":"#000000","opacity":1,"size":16}},
{"data":{"name":"fit"},"transform":[{"filter":"datum.lake==='French*' && datum.age===0"}],"mark":{"type":"text","font":"Lato","fontSize":37,"align":"right","baseline":"alphabetic","fill":"#000000"},"encoding":{"x":{"datum":21.25,"type":"quantitative"},"y":{"datum":36,"type":"quantitative"},"text":{"field":"lake","type":"nominal"}}}
]},
{"width":414,"height":300,
"encoding":{"x":{"field":"age","type":"quantitative","scale":{"domain":[0,22]},"title":null},"y":{"field":"length","type":"quantitative","scale":{"domain":[0,700]},"title":null}},
"layer":[
{"data":{"name":"obs"},"transform":[{"filter":"datum.lake==='Pickerel*'"}],"mark":{"type":"point","filled":false,"color":"#0000ff","opacity":0.5,"size":22,"strokeWidth":1}},
{"data":{"name":"fit"},"transform":[{"filter":"datum.lake==='Pickerel*'"}],"mark":{"type":"line","color":"#ff1a1a","strokeWidth":1.5},"encoding":{}},
{"data":{"name":"mean"},"transform":[{"filter":"datum.lake==='Pickerel*'"}],"mark":{"type":"circle","color":"#000000","opacity":1,"size":16}},
{"data":{"name":"fit"},"transform":[{"filter":"datum.lake==='Pickerel*' && datum.age===0"}],"mark":{"type":"text","font":"Lato","fontSize":37,"align":"right","baseline":"alphabetic","fill":"#000000"},"encoding":{"x":{"datum":20.4,"type":"quantitative"},"y":{"datum":84,"type":"quantitative"},"text":{"field":"lake","type":"nominal"}}}
]},
{"width":414,"height":300,
"encoding":{"x":{"field":"age","type":"quantitative","scale":{"domain":[0,22]},"title":null},"y":{"field":"length","type":"quantitative","scale":{"domain":[0,700]},"title":null}},
"layer":[
{"data":{"name":"obs"},"transform":[{"filter":"datum.lake==='Saganagons*'"}],"mark":{"type":"point","filled":false,"color":"#0000ff","opacity":0.5,"size":22,"strokeWidth":1}},
{"data":{"name":"fit"},"transform":[{"filter":"datum.lake==='Saganagons*'"}],"mark":{"type":"line","color":"#ff1a1a","strokeWidth":1.5},"encoding":{}},
{"data":{"name":"mean"},"transform":[{"filter":"datum.lake==='Saganagons*'"}],"mark":{"type":"circle","color":"#000000","opacity":1,"size":16}},
{"data":{"name":"fit"},"transform":[{"filter":"datum.lake==='Saganagons*' && datum.age===0"}],"mark":{"type":"text","font":"Lato","fontSize":37,"align":"right","baseline":"alphabetic","fill":"#000000"},"encoding":{"x":{"datum":19.7,"type":"quantitative"},"y":{"datum":52,"type":"quantitative"},"text":{"field":"lake","type":"nominal"}}}
]}
]}],
"config":{
"view":{"stroke":"#a6a6a6","strokeWidth":1},
"axis":{"labelFont":"Liberation Sans","labelFontSize":19,"labelColor":"#222222","domainColor":"#a6a6a6","ticks":true,"tickSize":4,"tickColor":"#a6a6a6","grid":false,"labelPadding":3,"labelFlush":false},
"axisX":{"tickCount":5,"labelPadding":1},
"axisY":{"tickCount":7},
"title":{"font":"Lato","fontSize":36,"fontWeight":"normal","color":"#000000"}
}
}
